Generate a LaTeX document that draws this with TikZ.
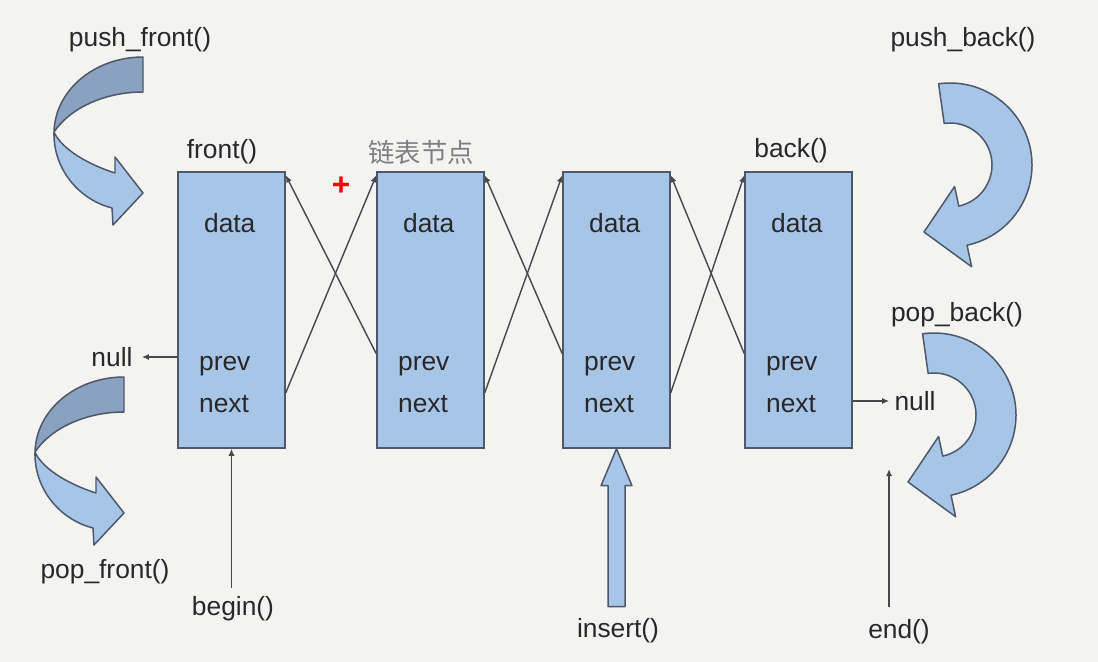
\documentclass[tikz,border=0pt]{standalone}
\usepackage{fontspec}
\setmainfont{Liberation Sans}
\newfontfamily\cjkfont{Noto Sans CJK SC}
\usetikzlibrary{arrows.meta,calc}
\definecolor{bgcol}{RGB}{243,243,242}
\definecolor{nodefill}{RGB}{167,197,231}
\definecolor{nodeedge}{RGB}{78,88,104}
\definecolor{curldark}{RGB}{138,161,192}
\definecolor{inkcol}{RGB}{40,40,40}
\tikzstyle{listnode} = [draw=nodeedge, fill=nodefill, line width=0.85pt, minimum width=2.14cm, minimum height=5.52cm, inner sep=0pt]
\tikzstyle{field} = [text=inkcol, font={\fontsize{15}{18}\selectfont}, inner sep=1pt]
\tikzstyle{ptr} = [draw=inkcol!85, line width=0.8pt, -{Latex[length=4pt,width=3.5pt]}]
\tikzstyle{curl} = [draw=nodeedge, fill=nodefill, line width=0.85pt, line join=round]
\newcommand{\frontcurl}{%
  \draw[curl, fill=curldark] (143,-57) .. controls (95,-57) and (55,-90) .. (54,-132)
    .. controls (70,-108) and (105,-92) .. (143,-92) -- cycle;
  \draw[curl] (54,-132) .. controls (53,-170) and (80,-200) .. (112,-208) -- (113,-225)
    -- (143,-193) -- (115,-157) -- (115,-173) .. controls (90,-165) and (62,-150) .. (54,-132) -- cycle;
}
\newcommand{\backcurl}{%
  \draw[curl] (98:82) arc[start angle=98, end angle=-78, radius=82] -- (-78:104) -- (248.8:71.9)
    -- (-78:22) -- (-78:42) arc[start angle=-78, end angle=98, radius=42] -- cycle;
}

\begin{document}
\begin{tikzpicture}[x=0.02cm, y=0.02cm]
    \fill[bgcol] (0,0) rectangle (1098,-662);
    \useasboundingbox (0,0) rectangle (1098,-662);
    \foreach \i/\x in {1/178,2/377,3/563,4/745} {
      \node[listnode](n\i) at (\x+53.5,-310){};
      \node[field, anchor=base west](d\i) at (\x+24,-233){data};
      \node[field, anchor=base west](p\i) at (\x+19,-370){prev};
      \node[field, anchor=base west](x\i) at (\x+19,-412){next};
    }
    \node[field](front) at (222,-152){front()};
    \node[field, text=gray, font={\cjkfont\fontsize{15}{18}\selectfont}](cjk) at (421,-152){链表节点};
    \node[field](back) at (791,-151){back()};
    \node[text=red, font={\fontsize{18}{20}\selectfont\bfseries}](plus) at (341,-186){+};
    \foreach \i/\j in {1/2,2/3,3/4} {
      \draw[ptr](n\i.east |- x\i.north) -- ([yshift=-0.08cm]n\j.north west);
      \draw[ptr](n\j.west |- p\j.north) -- ([yshift=-0.08cm]n\i.north east);
    }
    \node[field, inner xsep=0.18cm](nullL) at (112,-357){null};
    \draw[ptr](n1.west |- nullL) -- (nullL.east);
    \node[field, inner xsep=0.1cm](nullR) at (915,-401){null};
    \draw[ptr](n4.east |- nullR) -- (nullR.west);
    % iterators
    \node[field](beg) at (233,-609){begin()};
    \draw[ptr, shorten <=0.14cm](beg.north -| n1.south) -- (n1.south);
    \node[field](ins) at (618,-631){insert()};
    \draw[curl](n3.south) -- ++(15.5,-37) -- ++(-7,0) -- ++(0,-121) -- ++(-17,0) -- ++(0,121) -- ++(-7,0) -- cycle;
    \node[field](endl) at (899,-632){end()};
    \coordinate(endp) at (889,-469);
    \draw[ptr, shorten <=0.22cm](endl.north -| endp) -- (endp);
    % push / pop
    \node[field](pushf) at (140,-40){push\_front()};
    \node[field](popf) at (105,-572){pop\_front()};
    \node[field](pushb) at (963,-40){push\_back()};
    \node[field](popb) at (957,-315){pop\_back()};
    \frontcurl
    \begin{scope}[shift={(-19,-320)}]\frontcurl\end{scope}
    \begin{scope}[shift={(950,-165)}]\backcurl\end{scope}
    \begin{scope}[shift={(934,-415)}]\backcurl\end{scope}
  \end{tikzpicture}
\end{document}
